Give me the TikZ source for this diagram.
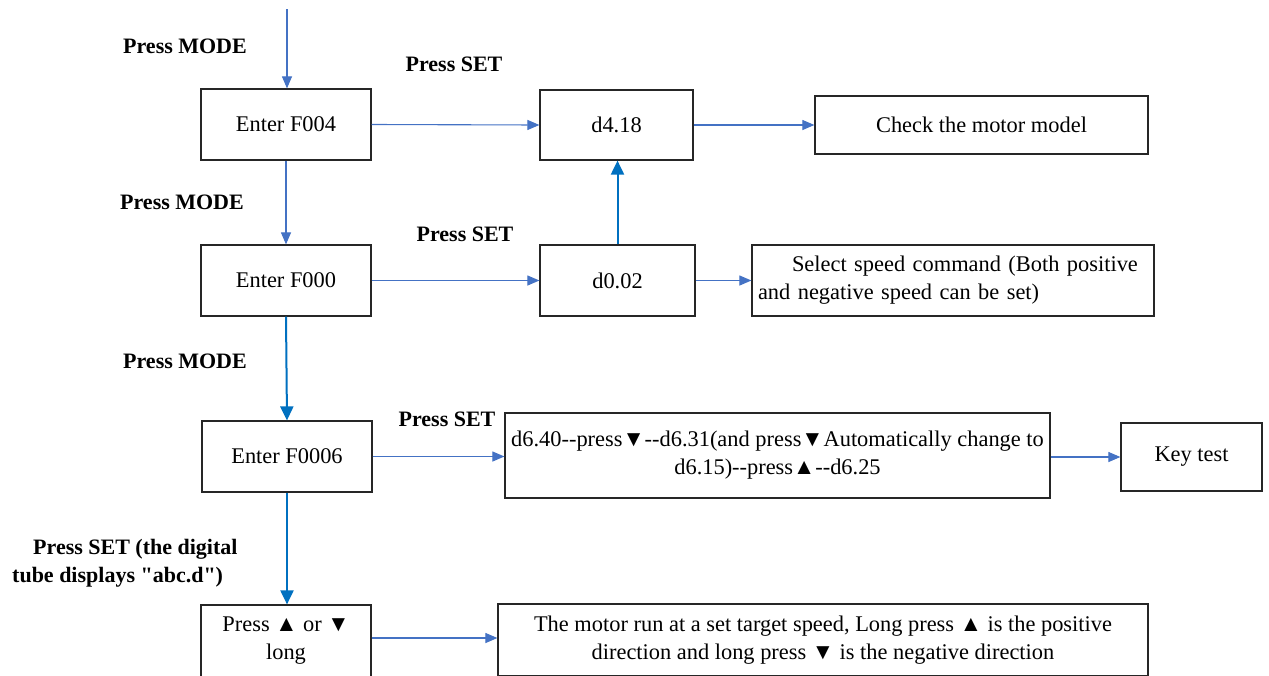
\documentclass[tikz,border=0pt]{standalone}
\usepackage{fontspec}
\setmainfont{Liberation Serif}[Ligatures=TeXOff]
\usetikzlibrary{arrows.meta}
\definecolor{thinblue}{HTML}{4472C4}
\definecolor{thickblue}{HTML}{0070C0}
\tikzset{
  box/.style={draw=black!85, line width=1.2pt, rectangle, inner sep=0pt,
    font=\fontsize{22.4}{28}\selectfont, align=center},
  lbl/.style={font=\fontsize{22}{28}\selectfont\bfseries, inner sep=0pt},
  thinarrow/.style={draw=thinblue, line width=1.1pt,
    -{Triangle[length=12pt,width=10pt]}},
  thickarrow/.style={draw=thickblue, line width=2pt,
    -{Triangle[length=14pt,width=13pt]}}
}
\begin{document}
\begin{tikzpicture}[x=1pt,y=-1pt]
\useasboundingbox (0,0) rectangle (1269,675);

% process boxes
\node[box, minimum width=170pt, minimum height=71pt] (f004) at (286,124.5) {Enter F004};
\node[box, minimum width=153pt, minimum height=70pt] (d418) at (616.5,125) {d4.18};
\node[box, minimum width=333pt, minimum height=58pt] (chk) at (981.5,125) {Check the motor model};

\node[box, minimum width=170pt, minimum height=71pt] (f000) at (286,280.5) {Enter F000};
\node[box, minimum width=155pt, minimum height=71pt] (d002) at (617.5,280.5) {d0.02};
\node[box, minimum width=402pt, minimum height=71pt, inner xsep=6pt,
      text width=390pt, align=left] (spd) at (953,280.5)
  {\hspace*{34pt}Select speed command (Both positive\\and negative speed can be set)};

\node[box, minimum width=170pt, minimum height=71pt] (f0006) at (287,456.5) {Enter F0006};
\node[box, minimum width=545pt, minimum height=85pt] (seq) at (777.5,455.5)
  {d6.40--press▼--d6.31(and press▼Automatically change to\\d6.15)--press▲--d6.25};
\node[box, minimum width=141pt, minimum height=68pt] (key) at (1191.5,457) {Key test};

\node[box, minimum width=170pt, minimum height=72pt] (lng) at (286,641) {Press ▲ or ▼\\long};
\node[box, minimum width=650pt, minimum height=72pt] (run) at (823,640)
  {The motor run at a set target speed, Long press ▲ is the positive\\direction and long press ▼ is the negative direction};

% step labels
\node[lbl] (m1) at (185,46) {Press MODE};
\node[lbl] (s1) at (454,64) {Press SET};
\node[lbl] (m2) at (182,202) {Press MODE};
\node[lbl] (s2) at (465,234) {Press SET};
\node[lbl] (m3) at (185,361) {Press MODE};
\node[lbl] (s3) at (447,419) {Press SET};
\node[lbl, anchor=west, align=left] (s4) at (12,563)
  {\hspace*{21pt}Press SET (the digital\\tube displays "abc.d")};

% connectors
\coordinate (entry) at (287,9);
\draw[thinarrow] (entry) -- (entry |- f004.north);
\draw[thinarrow] (f004.east) -- (d418.west);
\draw[thinarrow] (d418.east) -- (chk.west);
\draw[thinarrow] (f004.south) -- (f000.north);
\draw[thinarrow] (f000.east) -- (d002.west);
\draw[thinarrow] (d002.east) -- (spd.west);
\draw[thickarrow] (d002.north) -- (d002.north |- d418.south);
\draw[thickarrow] (f000.south) -- (f0006.north);
\draw[thinarrow] (f0006.east) -- (f0006.east -| seq.west);
\draw[thinarrow] (seq.east |- key.west) -- (key.west);
\draw[thickarrow] (f0006.south) -- (f0006.south |- lng.north);
\draw[thinarrow] (lng.east |- 0,638) -- (run.west |- 0,638);
\end{tikzpicture}
\end{document}
